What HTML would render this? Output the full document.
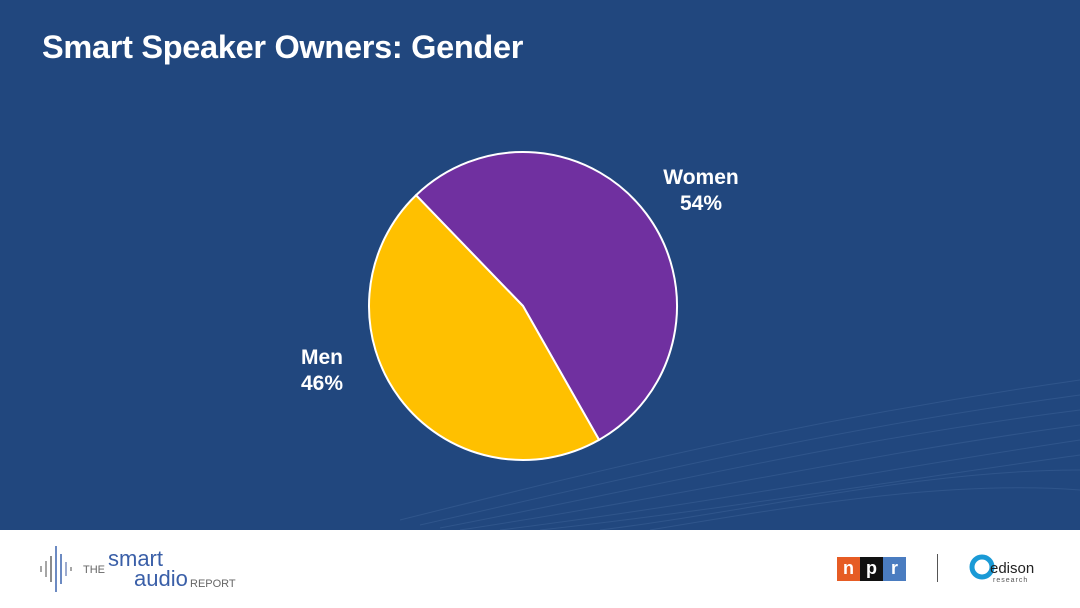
<!DOCTYPE html>
<html><head><meta charset="utf-8"><style>
body{margin:0;width:1080px;height:608px;overflow:hidden;font-family:"Liberation Sans",Arial,sans-serif;}
#main{position:absolute;left:0;top:0;width:1080px;height:530px;background:#21477e;}
#foot{position:absolute;left:0;top:530px;width:1080px;height:78px;background:#fff;}
h1{position:absolute;left:42px;top:29px;margin:0;color:#fff;font-size:32.5px;font-weight:bold;letter-spacing:-0.3px;}
.lbl{position:absolute;color:#fff;font-weight:bold;font-size:21px;text-align:center;line-height:26px;}
</style></head><body>
<div id="main">
<svg width="1080" height="530" style="position:absolute;left:0;top:0">
<g fill="none" stroke="#4a6fa3" stroke-width="1" opacity="0.35">
<path d="M400 520 C600 470 800 420 1080 380"/><path d="M420 525 C620 480 820 430 1080 395"/>
<path d="M440 528 C640 490 840 440 1080 410"/><path d="M460 530 C660 500 860 455 1080 425"/>
<path d="M500 530 C700 505 880 470 1080 440"/><path d="M540 530 C720 510 900 480 1080 455"/>
<path d="M600 530 C760 510 920 470 1080 470"/><path d="M650 530 C800 505 950 480 1080 490"/>
</g></svg>
<h1>Smart Speaker Owners: Gender</h1>
<svg id="pie" width="1080" height="530" style="position:absolute;left:0;top:0"></svg>
<div class="lbl" style="left:651px;top:165px;width:100px">Women<br>54%</div>
<div class="lbl" style="left:272px;top:345px;width:100px">Men<br>46%</div>
</div>
<div id="foot">
<svg width="40" height="50" style="position:absolute;left:38px;top:14px">
<g stroke-width="1.5"><line x1="3" y1="22" x2="3" y2="28" stroke="#888"/><line x1="8" y1="17" x2="8" y2="33" stroke="#888"/><line x1="13" y1="12" x2="13" y2="38" stroke="#666"/><line x1="18" y1="2" x2="18" y2="48" stroke="#3a63ad"/><line x1="23" y1="10" x2="23" y2="40" stroke="#3a63ad"/><line x1="28" y1="18" x2="28" y2="32" stroke="#7a8fbf"/><line x1="33" y1="23" x2="33" y2="27" stroke="#888"/></g></svg>
<div style="position:absolute;left:83px;top:34px;font-size:11px;color:#666">THE</div>
<div style="position:absolute;left:108px;top:18px;font-size:22px;color:#3a5fa8;line-height:22px">smart</div>
<div style="position:absolute;left:134px;top:38px;font-size:22px;color:#3a5fa8;line-height:22px">audio</div>
<div style="position:absolute;left:190px;top:48px;font-size:11px;color:#666">REPORT</div>
<div style="position:absolute;left:837px;top:27px;width:69px;height:24px;display:flex;font-weight:bold;font-size:18px;color:#fff">
<div style="flex:1;background:#e65c24;text-align:center;line-height:22px">n</div><div style="flex:1;background:#111;text-align:center;line-height:22px">p</div><div style="flex:1;background:#4a7cc0;text-align:center;line-height:22px">r</div></div>
<div style="position:absolute;left:937px;top:24px;width:1px;height:28px;background:#555"></div>
<svg width="30" height="30" style="position:absolute;left:969px;top:22px"><circle cx="13" cy="15" r="10" fill="none" stroke="#1a9ad6" stroke-width="5"/></svg>
<div style="position:absolute;left:990px;top:30px;font-size:15px;color:#222">edison</div>
<div style="position:absolute;left:993px;top:47px;font-size:7px;color:#555;letter-spacing:1px">research</div>
</div>
<script>
const categories=["Women","Men"];
const values=[54,46];
const colors=["#7030a0","#ffc000"];
const svg=document.getElementById('pie');
const cx=523,cy=306,r=154,start=-44;
const total=values.reduce((a,b)=>a+b,0);
let a=start;
function pt(deg){const t=deg*Math.PI/180;return [cx+r*Math.sin(t),cy-r*Math.cos(t)];}
values.forEach((v,i)=>{
  const sweep=v/total*360;const p1=pt(a),p2=pt(a+sweep);
  const p=document.createElementNS('http://www.w3.org/2000/svg','path');
  p.setAttribute('d',`M${cx},${cy}L${p1[0]},${p1[1]}A${r},${r} 0 ${sweep>180?1:0} 1 ${p2[0]},${p2[1]}Z`);
  p.setAttribute('fill',colors[i]);p.setAttribute('stroke','#fff');p.setAttribute('stroke-width','2');
  
  
  svg.appendChild(p);a+=sweep;
});
</script>
</body></html>
